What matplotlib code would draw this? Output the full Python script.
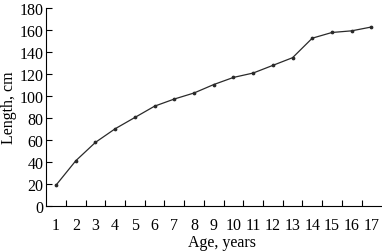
import matplotlib
matplotlib.use("Agg")
import matplotlib.pyplot as plt
import numpy as np

ages = list(range(1, 18))
lengths = [18.8, 41, 57.8, 70.2, 80.5, 90.8, 97.3, 102.8, 110.5, 117, 121, 128, 135, 152.8, 158, 159.5, 163]
yticks = [0, 20, 40, 60, 80, 100, 120, 140, 160, 180]

plt.rcParams['font.family'] = ['Liberation Serif', 'DejaVu Serif']

fig = plt.figure(figsize=(3.82, 2.53), dpi=100)
ax = fig.add_axes([0.121, 0.183, 0.877, 0.780])
ax.plot(ages, lengths, color='#2a2a2a', lw=0.9, marker='o', ms=1.7)
ax.set_xlim(0.5, 17.5)
ax.set_ylim(0, 180)
ax.set_yticks(yticks)
ax.set_xticks(ages)
ax.set_xticks(np.arange(1.5, 17.5, 1.0), minor=True)
ax.tick_params(axis='x', which='major', length=0, pad=8, labelsize=11.5)
ax.tick_params(axis='x', which='minor', direction='in', length=4, width=0.8)
ax.tick_params(axis='y', direction='in', length=4, width=0.8, labelsize=11.5, pad=2)
for s in ['top', 'right']:
    ax.spines[s].set_visible(False)
for s in ['left', 'bottom']:
    ax.spines[s].set_linewidth(0.8)
ax.set_xlabel('Age, years', fontsize=11.5)
ax.xaxis.set_label_coords(0.525, -0.143)
ax.set_ylabel('Length, cm', fontsize=11.5, labelpad=2)
fig.savefig('out.png', dpi=100)
